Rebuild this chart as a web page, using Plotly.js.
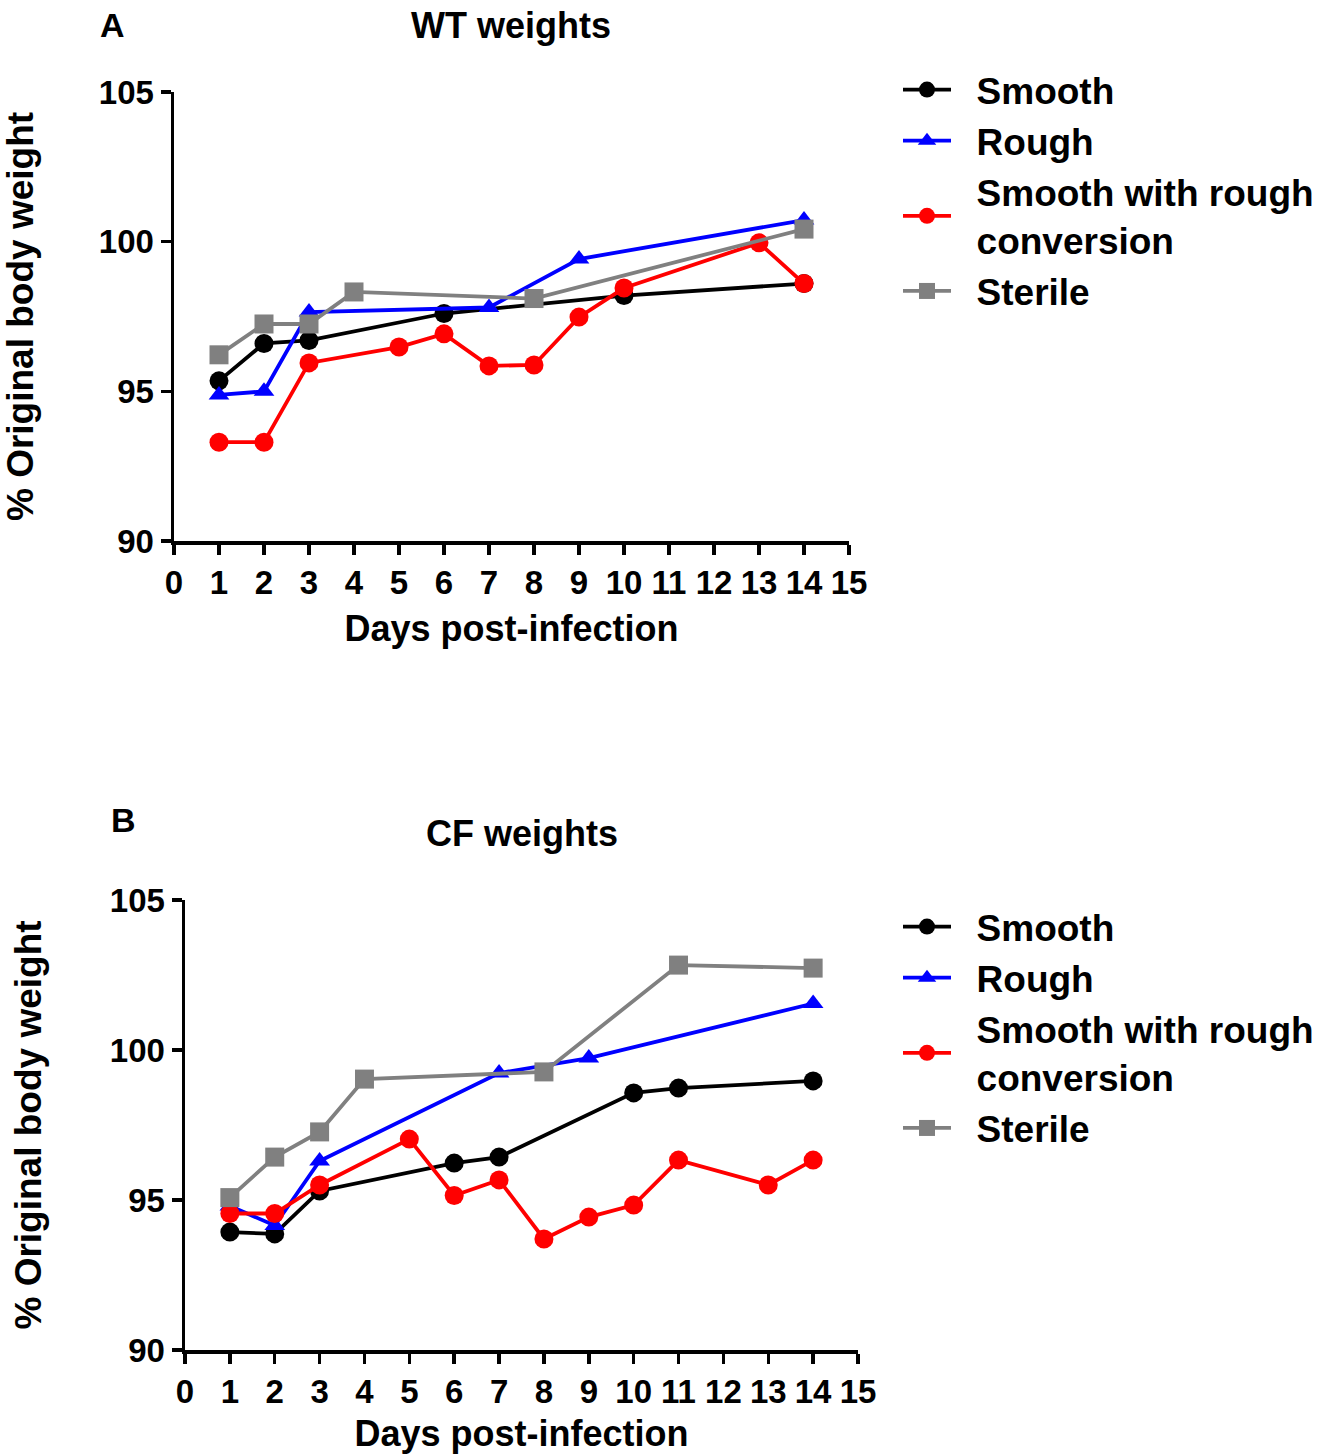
<!DOCTYPE html>
<html>
<head>
<meta charset="utf-8">
<script src="https://cdn.plot.ly/plotly-3.0.1.min.js"></script>
<style>html,body{margin:0;padding:0;background:#fff;}#chart{width:1326px;height:1454px;}</style>
</head>
<body>
<div id="chart"></div>
<script>
// ---- Panel A: WT weights ----
const wtSmoothDays = [1, 2, 3, 6, 10, 14];
const wtSmoothVals = [95.35, 96.6, 96.7, 97.6, 98.2, 98.6];
const wtRoughDays = [1, 2, 3, 7, 9, 14];
const wtRoughVals = [94.88, 95.0, 97.65, 97.8, 99.42, 100.72];
const wtConvDays = [1, 2, 3, 5, 6, 7, 8, 9, 10, 13, 14];
const wtConvVals = [93.3, 93.3, 95.95, 96.48, 96.92, 95.85, 95.88, 97.48, 98.45, 99.96, 98.6];
const wtSterileDays = [1, 2, 3, 4, 8, 14];
const wtSterileVals = [96.22, 97.25, 97.25, 98.32, 98.1, 100.42];

// ---- Panel B: CF weights ----
const cfSmoothDays = [1, 2, 3, 6, 7, 10, 11, 14];
const cfSmoothVals = [93.93, 93.87, 95.3, 96.23, 96.43, 98.57, 98.73, 98.97];
const cfRoughDays = [1, 2, 3, 7, 9, 14];
const cfRoughVals = [94.8, 94.15, 96.3, 99.23, 99.73, 101.55];
const cfConvDays = [1, 2, 3, 5, 6, 7, 8, 9, 10, 11, 13, 14];
const cfConvVals = [94.55, 94.55, 95.5, 97.03, 95.15, 95.67, 93.7, 94.43, 94.83, 96.33, 95.5, 96.33];
const cfSterileDays = [1, 2, 3, 4, 8, 11, 14];
const cfSterileVals = [95.08, 96.43, 97.27, 99.03, 99.27, 102.83, 102.73];

const NB = "\u00a0\u00a0";
const seriesNames = [NB + "Smooth", NB + "Rough", NB + "Smooth with rough<br>" + NB + "conversion", NB + "Sterile"];
const xTicks = [0,1,2,3,4,5,6,7,8,9,10,11,12,13,14,15];
const yTicks = [90, 95, 100, 105];

const colors = ["#000000", "#0000ff", "#ff0000", "#808080"];
const symbols = ["circle", "triangle-up", "circle", "square"];
const FONT = "Liberation Sans, Arial, sans-serif";

function mk(x, y, i, xa, ya, leg) {
  return {
    x: x, y: y, type: "scatter", mode: "lines+markers",
    name: seriesNames[i], xaxis: xa, yaxis: ya, legend: leg,
    line: {color: colors[i], width: 3.8},
    marker: {color: colors[i], symbol: symbols[i], size: i === 1 ? 18 : 19},
    cliponaxis: false
  };
}

const data = [
  mk(wtSmoothDays, wtSmoothVals, 0, "x", "y", "legend"),
  mk(wtRoughDays, wtRoughVals, 1, "x", "y", "legend"),
  mk(wtConvDays, wtConvVals, 2, "x", "y", "legend"),
  mk(wtSterileDays, wtSterileVals, 3, "x", "y", "legend"),
  mk(cfSmoothDays, cfSmoothVals, 0, "x2", "y2", "legend2"),
  mk(cfRoughDays, cfRoughVals, 1, "x2", "y2", "legend2"),
  mk(cfConvDays, cfConvVals, 2, "x2", "y2", "legend2"),
  mk(cfSterileDays, cfSterileVals, 3, "x2", "y2", "legend2")
];

const W = 1326, H = 1454;
function xa(l, r, anchor) {
  return {
    domain: [l / W, r / W], range: [0, 15], anchor: anchor,
    tickmode: "array", tickvals: xTicks, ticktext: xTicks.map(String),
    showline: true, linecolor: "#000", linewidth: 3.5,
    ticks: "outside", ticklen: 10, tickwidth: 3.5, tickcolor: "#000",
    showgrid: false, zeroline: false,
    tickfont: {family: FONT, size: 33, color: "#000", weight: "bold"},
    title: {text: "Days post-infection", font: {family: FONT, size: 36, color: "#000", weight: "bold"}, standoff: 16}
  };
}
function ya(t, b, anchor) {
  return {
    domain: [1 - b / H, 1 - t / H], range: [90, 105], anchor: anchor,
    tickmode: "array", tickvals: yTicks, ticktext: yTicks.map(String),
    showline: true, linecolor: "#000", linewidth: 3.5,
    ticks: "outside", ticklen: 10, tickwidth: 3.5, tickcolor: "#000",
    showgrid: false, zeroline: false,
    tickfont: {family: FONT, size: 33, color: "#000", weight: "bold"},
    title: {text: "% Original body weight", font: {family: FONT, size: 37, color: "#000", weight: "bold"}, standoff: 58}
  };
}

const legFont = {family: FONT, size: 37, color: "#000", weight: "bold"};
const layout = {
  width: W, height: H,
  margin: {l: 0, r: 0, t: 0, b: 0},
  paper_bgcolor: "#fff", plot_bgcolor: "#fff",
  showlegend: true,
  xaxis: xa(174, 849, "y"),
  yaxis: ya(92, 541, "x"),
  xaxis2: xa(185, 858, "y2"),
  yaxis2: ya(900, 1350, "x2"),
  legend: {x: 898 / W, y: 1 - 59 / H, xanchor: "left", yanchor: "top", font: legFont,
           bgcolor: "rgba(0,0,0,0)", tracegroupgap: 0, itemwidth: 48},
  legend2: {x: 898 / W, y: 1 - 896 / H, xanchor: "left", yanchor: "top", font: legFont,
            bgcolor: "rgba(0,0,0,0)", tracegroupgap: 0, itemwidth: 48},
  annotations: [
    {text: "A", x: 112 / W, y: 1 - 25 / H, xref: "paper", yref: "paper", showarrow: false,
     xanchor: "center", yanchor: "middle",
     font: {family: FONT, size: 34, color: "#000", weight: "bold"}},
    {text: "WT weights", x: 511 / W, y: 1 - 25 / H, xref: "paper", yref: "paper", showarrow: false,
     xanchor: "center", yanchor: "middle",
     font: {family: FONT, size: 36, color: "#000", weight: "bold"}},
    {text: "B", x: 123 / W, y: 1 - 820 / H, xref: "paper", yref: "paper", showarrow: false,
     xanchor: "center", yanchor: "middle",
     font: {family: FONT, size: 34, color: "#000", weight: "bold"}},
    {text: "CF weights", x: 522 / W, y: 1 - 833 / H, xref: "paper", yref: "paper", showarrow: false,
     xanchor: "center", yanchor: "middle",
     font: {family: FONT, size: 36, color: "#000", weight: "bold"}}
  ]
};

Plotly.newPlot("chart", data, layout, {displayModeBar: false, staticPlot: true});
</script>
</body>
</html>
